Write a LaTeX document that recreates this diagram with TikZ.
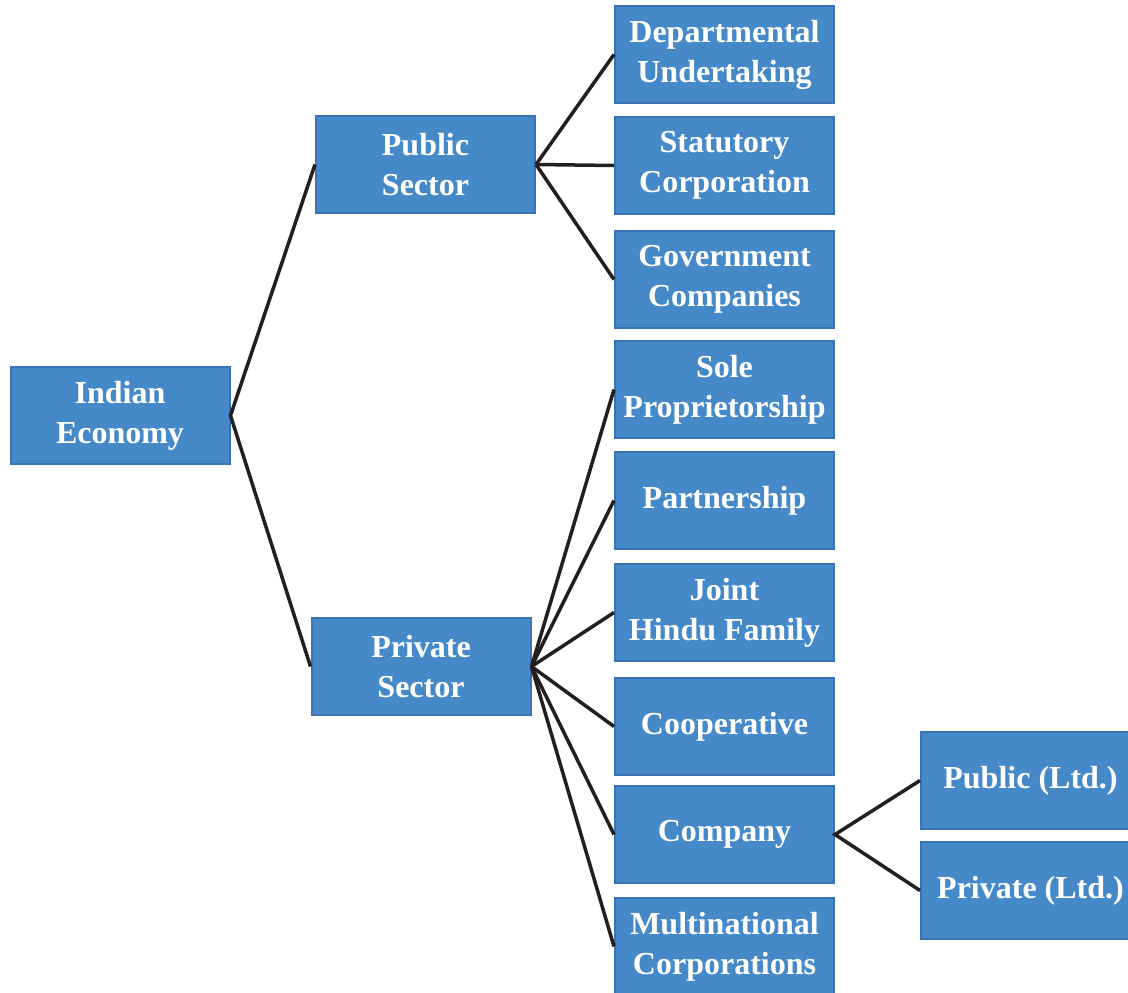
\documentclass[tikz,border=0pt]{standalone}
\usepackage{fontspec}
\setmainfont{Liberation Serif}
\usepackage{tikz}
\definecolor{boxblue}{HTML}{4589C9}
\definecolor{boxedge}{HTML}{3A72B8}
\definecolor{linkgray}{HTML}{231F20}
\tikzset{
	unit/.style={rectangle, fill=boxblue, draw=boxedge, line width=2pt,
		minimum width=219pt, minimum height=97pt, inner sep=0pt,
		text=white, align=center, font=\fontsize{32}{40}\selectfont\bfseries},
	link/.style={draw=linkgray, line width=3.5pt}
}
\begin{document}
\begin{tikzpicture}[x=1pt,y=-1pt]
	\useasboundingbox (0,0) rectangle (1128,993);
	% first and second level
	\node [unit] (eco) at (120,415.5) {Indian\\Economy};
	\node [unit] (pub) at (425.5,164.5) {Public\\Sector};
	\node [unit] (pri) at (421,666.5) {Private\\Sector};
	% public sector units
	\node [unit] (dep) at (724.5,54.5) {Departmental\\Undertaking};
	\node [unit] (sta) at (724.5,165.5) {Statutory\\Corporation};
	\node [unit] (gov) at (724.5,279.5) {Government\\Companies};
	% private sector units
	\node [unit] (sol) at (724.5,389.5) {Sole\\Proprietorship};
	\node [unit] (par) at (724.5,500.5) {Partnership};
	\node [unit] (jhf) at (724.5,612.5) {Joint\\Hindu Family};
	\node [unit] (coo) at (724.5,726.5) {Cooperative};
	\node [unit] (com) at (724.5,834.5) {Company};
	\node [unit] (mnc) at (724.5,946.5) {Multinational\\Corporations};
	% kinds of company
	\node [unit] (plt) at (1030.5,780.5) {Public (Ltd.)};
	\node [unit] (vlt) at (1030.5,890.5) {Private (Ltd.)};
	% connectors
	\draw [link] (pub.west) -- (eco.east) -- (pri.west);
	\foreach \n in {dep,sta,gov}
		\draw [link] (pub.east) -- (\n.west);
	\foreach \n in {sol,par,jhf,coo,com,mnc}
		\draw [link] (pri.east) -- (\n.west);
	\draw [link] (plt.west) -- (com.east) -- (vlt.west);
\end{tikzpicture}
\end{document}
